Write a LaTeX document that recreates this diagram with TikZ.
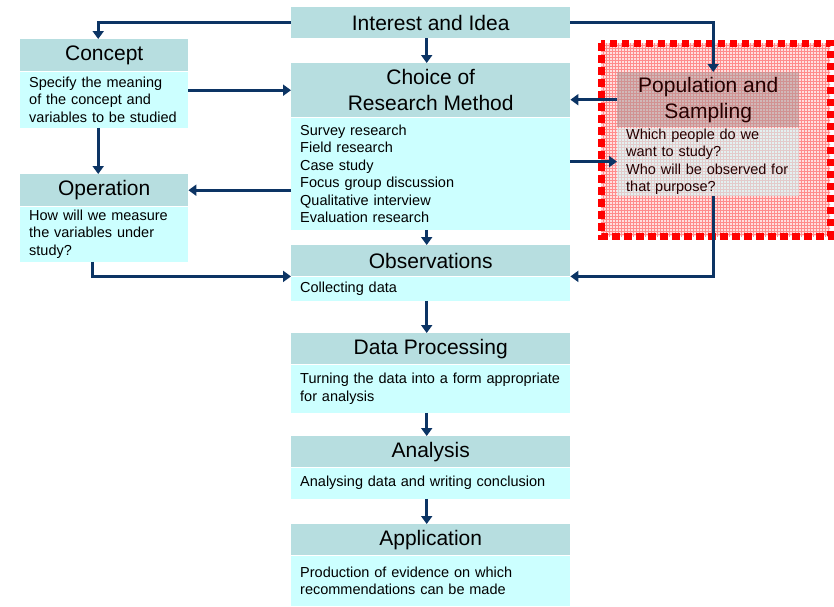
\documentclass[tikz,border=0pt]{standalone}
\usepackage{fontspec}
\setmainfont{Liberation Sans}
\usetikzlibrary{arrows.meta,patterns}
\definecolor{headfill}{RGB}{183,222,224}
\definecolor{bodyfill}{RGB}{204,255,255}
\definecolor{flowline}{RGB}{12,52,100}
\tikzset{
  head/.style={fill=headfill, anchor=north west, inner sep=0pt, minimum width=279pt,
    minimum height=31pt, align=center, font=\fontsize{21}{26}\selectfont},
  body/.style={fill=bodyfill, anchor=north west, inner xsep=9pt, inner ysep=0pt,
    text width=261pt, align=left, font=\fontsize{14.5}{17.5}\selectfont},
  flow/.style={draw=flowline, line width=3pt, -{Triangle[width=11pt,length=8pt]}},
  popborder/.style={draw=red, line width=7pt, dash pattern=on 7.5pt off 4.5pt},
  tinted/.style={fill opacity=0.55, text opacity=1},
}
\begin{document}
\begin{tikzpicture}[x=1pt,y=-1pt]
  \useasboundingbox (0,0) rectangle (834,606);
  \node[head] (idea) at (291,7) {Interest and Idea};
  \node[head, minimum height=54pt] (choiceh) at (291,63) {Choice of\\Research Method};
  \node[body, minimum height=112pt] (choiceb) at (choiceh.south west)
    {Survey research\\Field research\\Case study\\Focus group discussion\\Qualitative interview\\Evaluation research};
  \node[head, minimum width=168pt, minimum height=32pt] (concepth) at (20,39) {Concept};
  \node[body, text width=150pt, minimum height=56pt] (conceptb) at (concepth.south west)
    {Specify the meaning\\of the concept and\\variables to be studied};
  \node[head, minimum width=168pt, minimum height=32pt] (operh) at (20,174) {Operation};
  \node[body, text width=150pt, minimum height=55pt] (operb) at (operh.south west)
    {How will we measure\\the variables under\\study?};
  \node[head] (obsh) at (291,245) {Observations};
  \node[body, minimum height=24pt] (obsb) at (obsh.south west) {Collecting data};
  \node[head] (proch) at (291,333) {Data Processing};
  \node[body, minimum height=48pt] (procb) at (proch.south west)
    {Turning the data into a form appropriate\\for analysis};
  \node[head] (anah) at (291,436) {Analysis};
  \node[body, minimum height=31pt] (anab) at (anah.south west) {Analysing data and writing conclusion};
  \node[head] (apph) at (291,524) {Application};
  \node[body, minimum height=50pt] (appb) at (apph.south west)
    {Production of evidence on which\\recommendations can be made};

  \fill[red, fill opacity=0.12] (601,43) rectangle (830,236);
  \fill[pattern=grid, pattern color=red!45] (601,43) rectangle (830,236);
  \node[head, tinted, fill=headfill!75!red!60!gray, minimum width=182pt, minimum height=55pt,
    text=black!85!red] (poph) at (617,72) {Population and\\Sampling};
  \node[body, tinted, text width=164pt, minimum height=68pt, text=black!85!red] (popb)
    at (poph.south west) {Which people do we\\want to study?\\Who will be observed for\\that purpose?};
  \draw[popborder] (601,43) rectangle (830,236);

  \draw[flow] (idea.west) -| ([xshift=-6pt]concepth.north);
  \draw[flow] (idea.east) -| ([xshift=5pt]poph.north);
  \draw[flow] ([xshift=-4pt]idea.south) -- ([xshift=-4pt]choiceh.north);
  \draw[flow] (conceptb.east |- choiceh.west) -- (choiceh.west);
  \draw[flow] (poph.west) -- (choiceh.east |- poph.west);
  \draw[flow] (choiceb.east |- popb.west) -- (popb.west);
  \draw[flow] (choiceb.west |- operh.east) -- (operh.east);
  \draw[flow] ([xshift=-6pt]conceptb.south) -- ([xshift=-6pt]operh.north);
  \draw[flow] ([xshift=-4pt]choiceb.south) -- ([xshift=-4pt]obsh.north);
  \draw[flow] ([xshift=-12pt]operb.south) |- (obsh.south west);
  \draw[flow] ([xshift=5pt]popb.south) |- (obsh.south east);
  \draw[flow] ([xshift=-4pt]obsb.south) -- ([xshift=-4pt]proch.north);
  \draw[flow] ([xshift=-4pt]procb.south) -- ([xshift=-4pt]anah.north);
  \draw[flow] ([xshift=-4pt]anab.south) -- ([xshift=-4pt]apph.north);
\end{tikzpicture}
\end{document}
